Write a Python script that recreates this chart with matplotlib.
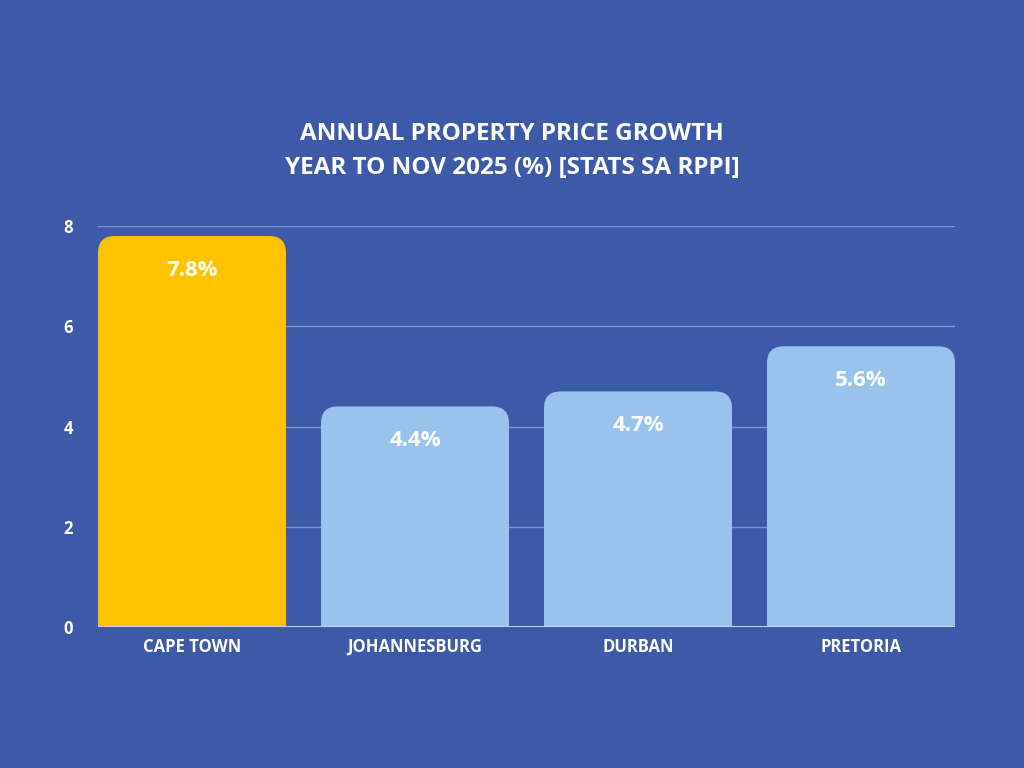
import matplotlib
matplotlib.use("Agg")
import matplotlib.pyplot as plt
from matplotlib.patches import FancyBboxPatch, Rectangle

cities = ["CAPE TOWN", "JOHANNESBURG", "DURBAN", "PRETORIA"]
growth = [7.8, 4.4, 4.7, 5.6]
labels = ["7.8%", "4.4%", "4.7%", "5.6%"]
colors = ["#ffc300", "#97c3ec", "#97c3ec", "#97c3ec"]
yticks = [0, 2, 4, 6, 8]

bg = "#3d5aa8"
plt.rcParams['font.family'] = ['Open Sans', 'DejaVu Sans']
fig = plt.figure(figsize=(10.24, 7.68), dpi=100, facecolor=bg)
ax = fig.add_axes([98/1024, 141/768, 857/1024, 401/768])
ax.set_facecolor(bg)
ax.set_xlim(-0.4215, 3.4215)
ax.set_ylim(0, 8)

bars = ax.bar(range(len(cities)), growth, width=0.843, color=colors, zorder=3)
for b, c, lab in zip(bars, colors, labels):
    x, w, h = b.get_x(), b.get_width(), b.get_height()
    b.set_visible(False)
    ax.add_patch(FancyBboxPatch((x, 0), w, h, boxstyle="round,pad=0,rounding_size=0.075",
                                mutation_aspect=4.45, fc=c, ec="none", zorder=3))
    ax.add_patch(Rectangle((x, 0), w, h - 0.6, fc=c, ec="none", zorder=3))
    ax.text(x + w/2, h - 0.68, lab, ha="center", va="center", color="white",
            fontsize=16, fontweight="bold", zorder=4)

for y in yticks[1:]:
    ax.axhline(y, color="#7f95cc", lw=1, zorder=1)
ax.axhline(0, color="#c9d3ee", lw=1.5, zorder=4)
for s in ax.spines.values():
    s.set_visible(False)
ax.set_yticks(yticks)
ax.set_yticklabels([str(v) for v in yticks])
ax.set_xticks(range(len(cities)))
ax.set_xticklabels(cities)
ax.tick_params(length=0, colors="white", labelsize=12)
ax.tick_params(axis="y", pad=18)
ax.tick_params(axis="x", pad=8)
for t in ax.get_xticklabels() + ax.get_yticklabels():
    t.set_fontweight("bold")

fig.text(0.5, 0.803, "ANNUAL PROPERTY PRICE GROWTH\nYEAR TO NOV 2025 (%) [STATS SA RPPI]",
         ha="center", va="center", color="white", fontsize=17.5, fontweight="bold",
         linespacing=1.55)
fig.savefig("out.png", dpi=100, facecolor=bg)
